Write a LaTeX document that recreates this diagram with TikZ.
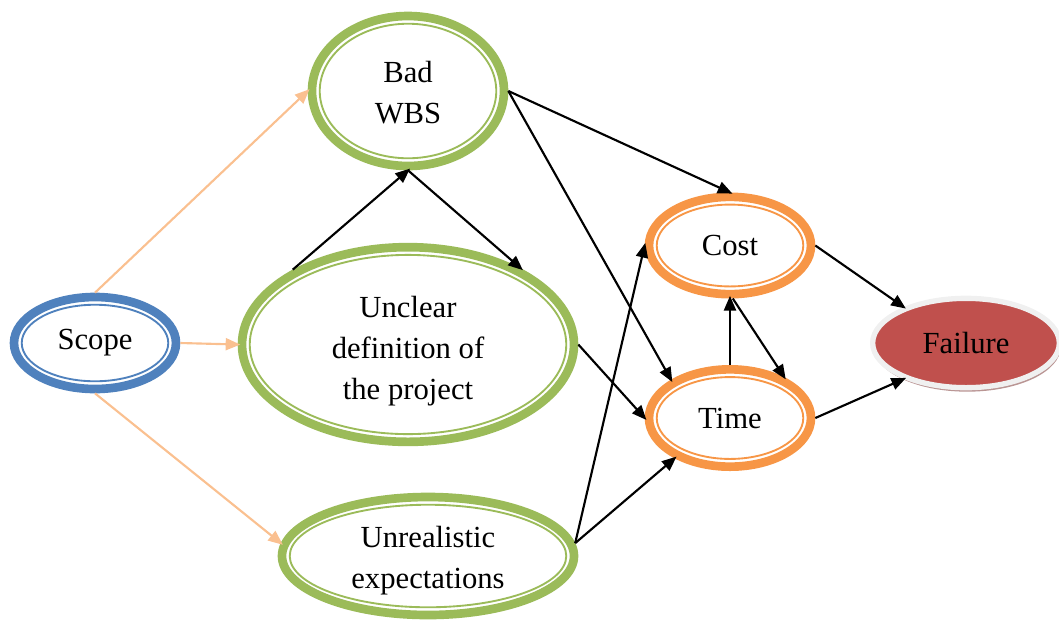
\documentclass[tikz,border=0pt]{standalone}
\usepackage{fontspec}
\setmainfont{Liberation Serif}
\usetikzlibrary{arrows.meta,shapes,calc,shadows}

\definecolor{scopeblue}{HTML}{4F81BD}
\definecolor{causegreen}{HTML}{9BBB59}
\definecolor{effectorange}{HTML}{F79646}
\definecolor{failred}{HTML}{C0504D}
\definecolor{lightorange}{HTML}{FAC090}
\definecolor{failshadow}{HTML}{A87A78}

\tikzset{
  ring/.style={ellipse, draw=#1, line width=6.5pt, inner sep=0pt, align=center,
    font=\fontsize{23}{31}\selectfont,
    path picture={\draw[#1, line width=1.4pt]
      let \p1=($(path picture bounding box.north east)-(path picture bounding box.center)$)
      in (path picture bounding box.center) ellipse [x radius=\x1-5.8pt, y radius=\y1-5.8pt];}},
  causal/.style={-{Triangle[length=11pt,width=9pt]}, line width=1.6pt, black, shorten >=-2pt},
  scopelink/.style={-{Triangle[length=11pt,width=9pt]}, line width=1.6pt, lightorange, shorten >=-2pt}
}

\begin{document}
\begin{tikzpicture}[x=0.75pt, y=-0.75pt]
  \useasboundingbox (0,0) rectangle (1059,619);

  % causes
  \node[ring=scopeblue, minimum width=121.5pt, minimum height=69pt] (scope) at (95,343) {Scope};
  \node[ring=causegreen, minimum width=144pt, minimum height=112.5pt] (wbs) at (408,91) {\rule{0pt}{18pt}Bad\\WBS};
  \node[ring=causegreen, minimum width=249pt, minimum height=146pt] (unclear) at (408,344.5) {\rule{0pt}{26pt}Unclear\\definition of\\the project};
  \node[ring=causegreen, minimum width=219pt, minimum height=88.5pt] (unreal) at (428,556) {\rule{0pt}{23pt}Unrealistic\\expectations};

  % effects
  \node[ring=effectorange, minimum width=121.5pt, minimum height=73pt] (cost) at (730,245.5) {Cost};
  \node[ring=effectorange, minimum width=121.5pt, minimum height=73pt] (time) at (730,418) {Time};
  \node[ellipse, fill=failred, draw=gray!12, line width=4pt, minimum width=140pt, minimum height=67pt,
        font=\fontsize{23}{31}\selectfont,
        drop shadow={shadow xshift=1pt, shadow yshift=-3pt, fill=failshadow, opacity=0.8}] (failure) at (966,343) {Failure};

  \draw[scopelink] (scope.north) -- (wbs.west);
  \draw[scopelink] (scope.east) -- (unclear.west);
  \draw[scopelink] (scope.south) -- (unreal.175);

  \draw[causal] (unclear.147) -- (wbs.south);
  \draw[causal] (wbs.south) -- (unclear.34);
  \draw[causal] (wbs.east) -- (cost.north);
  \draw[causal] (wbs.east) -- (time.147);
  \draw[causal] (unclear.east) -- (time.west);
  \draw[causal] (unreal.5) -- (cost.west);
  \draw[causal] (unreal.5) -- (time.216);
  \draw[causal] (time.north) -- (cost.south);
  \draw[causal] (cost.-87) -- (time.37);
  \draw[causal] (cost.east) -- (failure.150);
  \draw[causal] (time.east) -- (failure.210);
\end{tikzpicture}
\end{document}
